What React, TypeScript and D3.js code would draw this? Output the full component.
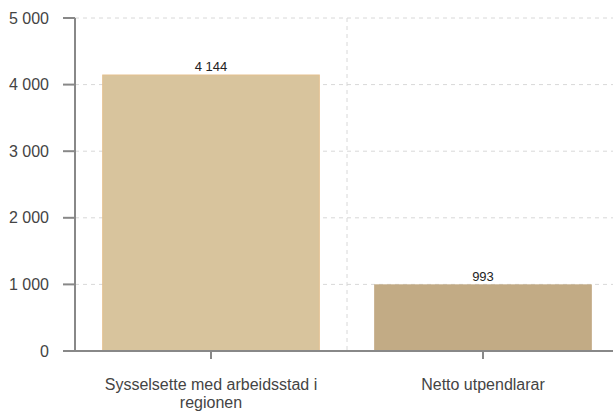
import React from "react";
import * as d3 from "d3";

const categories = ["Sysselsette med arbeidsstad i regionen", "Netto utpendlarar"];
const categoryLines = [["Sysselsette med arbeidsstad i", "regionen"], ["Netto utpendlarar"]];
const values = [4144, 993];
const valueLabels = ["4 144", "993"];
const yTicks = [0, 1000, 2000, 3000, 4000, 5000];
const yTickLabels = ["0", "1 000", "2 000", "3 000", "4 000", "5 000"];
const barColors = ["#d8c49d", "#c2ab85"];
const barStrokes = ["#e4c08f", "#c2ab85"];

export default function App() {
  const W = 613, H = 412;
  const left = 75, right = 619, top = 18, bottom = 351;
  const x = d3.scaleBand<string>().domain(categories).range([left, right]).paddingInner(0.2).paddingOuter(0.1);
  const y = d3.scaleLinear().domain([0, 5000]).range([bottom, top]);
  const font = "'Liberation Sans', Arial, sans-serif";
  return (
    <svg width={W} height={H} style={{ position: "absolute", left: 0, top: 0 }} fontFamily={font}>
      {yTicks.map((t) => (
        <line key={"g" + t} x1={left} x2={W} y1={y(t)} y2={y(t)} stroke="#d8d8d8" strokeDasharray="4,4" strokeWidth={1} />
      ))}
      {categories.slice(0, -1).map((c, i) => {
        const xv = (x(c)! + x.bandwidth() + x(categories[i + 1])!) / 2;
        return <line key={"v" + i} x1={xv} x2={xv} y1={top} y2={bottom} stroke="#d8d8d8" strokeDasharray="4,4" />;
      })}
      {categories.map((c, i) => (
        <rect key={c} x={x(c)! + 0.5} y={y(values[i])} width={x.bandwidth() - 1} height={bottom - y(values[i])} fill={barColors[i]} stroke={barStrokes[i]} strokeWidth={1} />
      ))}
      {categories.map((c, i) => (
        <text key={"l" + c} x={x(c)! + x.bandwidth() / 2} y={y(values[i]) - 4} textAnchor="middle" fontSize={13} fill="#222">{valueLabels[i]}</text>
      ))}
      <line x1={left} x2={left} y1={top} y2={bottom} stroke="#888" strokeWidth={2} />
      <line x1={63} x2={W} y1={bottom} y2={bottom} stroke="#888" strokeWidth={2} />
      {yTicks.map((t, i) => (
        <g key={"t" + t}>
          <line x1={63} x2={left} y1={y(t)} y2={y(t)} stroke="#888" strokeWidth={2} />
          <text x={49} y={y(t) + 5.5} textAnchor="end" fontSize={16} fill="#444">{yTickLabels[i]}</text>
        </g>
      ))}
      {categories.map((c, i) => {
        const cx = x(c)! + x.bandwidth() / 2;
        return (
          <g key={"x" + c}>
            <line x1={cx} x2={cx} y1={bottom} y2={bottom + 8} stroke="#888" strokeWidth={2} />
            {categoryLines[i].map((ln, j) => (
              <text key={j} x={cx} y={bottom + 39 + j * 18} textAnchor="middle" fontSize={16} fill="#444">{ln}</text>
            ))}
          </g>
        );
      })}
    </svg>
  );
}
